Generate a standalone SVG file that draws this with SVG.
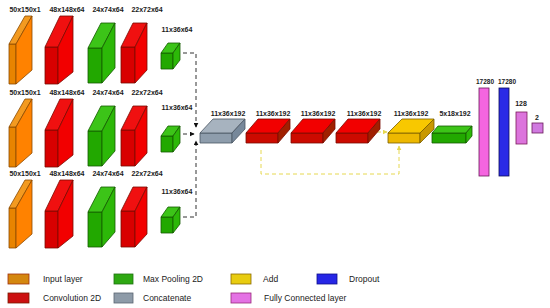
<svg xmlns="http://www.w3.org/2000/svg" width="550" height="308" viewBox="0 0 550 308">
<style>
text{font-family:"Liberation Sans",Arial,sans-serif;fill:#1a1a1a}
.lb{font-size:7px;font-weight:bold;text-anchor:middle}
.sm{font-size:6.5px}
.lg{font-size:8.5px}
.s{stroke-width:0.8;stroke-linejoin:round}
.inF{fill:#E88400}.inT{fill:#F39A20}.inS{fill:#FF8200}.in{stroke:#8A4A00}
.cvF{fill:#D80000}.cvT{fill:#F01010}.cvS{fill:#F20000}.cv{stroke:#7A0A00}
.mpF{fill:#22A800}.mpT{fill:#3CC418}.mpS{fill:#2CB808}.mp{stroke:#145A00}
.ccF{fill:#8E9DAC}.ccT{fill:#A7B3BF}.ccS{fill:#77889A}.cc{stroke:#4A5662}
.fcF{fill:#CC0A00}.fcT{fill:#F20000}.fcS{fill:#A02000}
.adF{fill:#EDB800}.adT{fill:#F8C800}.adS{fill:#C99800}.ad{stroke:#7A5E00}
.dash{fill:none;stroke:#333;stroke-width:1;stroke-dasharray:4 3}
.ydash{fill:none;stroke:#E6D850;stroke-width:1;stroke-dasharray:4 3}
</style>
<defs>
<marker id="ah" viewBox="0 0 8 8" refX="7" refY="4" markerWidth="5" markerHeight="5" orient="auto" markerUnits="userSpaceOnUse"><path d="M0,0 L8,4 L0,8 Z" fill="#111"/></marker>
<marker id="yh" viewBox="0 0 8 8" refX="7" refY="4" markerWidth="5" markerHeight="5" orient="auto" markerUnits="userSpaceOnUse"><path d="M0,0 L8,4 L0,8 Z" fill="#E6D850"/></marker>
<g id="rowblocks">
<g class="in s"><polygon class="inF" points="9,44 16,44 16,84 9,84"/><polygon class="inT" points="9,44 25,16 32,16 16,44"/><polygon class="inS" points="16,44 32,16 32,70 16,84"/></g>
<g class="cv s"><polygon class="cvF" points="45,47 58,47 58,84 45,84"/><polygon class="cvT" points="45,47 60,16 73,16 58,47"/><polygon class="cvS" points="58,47 73,16 73,72 58,84"/></g>
<g class="mp s"><polygon class="mpF" points="88,48 102,48 102,83 88,83"/><polygon class="mpT" points="88,48 101,23 115,23 102,48"/><polygon class="mpS" points="102,48 115,23 115,68 102,83"/></g>
<g class="cv s"><polygon class="cvF" points="121,47 135,47 135,83 121,83"/><polygon class="cvT" points="121,47 133,23 147,23 135,47"/><polygon class="cvS" points="135,47 147,23 147,70 135,83"/></g>
<g class="mp s"><polygon class="mpF" points="161,53 173,53 173,69 161,69"/><polygon class="mpT" points="161,53 168,43 180,43 173,53"/><polygon class="mpS" points="173,53 180,43 180,60 173,69"/></g>
</g>
<g id="flatred" class="cv s"><polygon class="fcF" points="0,14 32,14 32,24 0,24"/><polygon class="fcT" points="0,14 12,0 44,0 32,14"/><polygon class="fcS" points="32,14 44,0 44,10 32,24"/></g>
</defs>

<g id="branch1">
<use href="#rowblocks"/>
<text class="lb" x="25" y="12">50x150x1</text><text class="lb" x="67" y="12">48x148x64</text><text class="lb" x="108" y="12">24x74x64</text><text class="lb" x="147" y="12">22x72x64</text><text class="lb" x="177" y="32">11x36x64</text>
</g>
<g id="branch2">
<use href="#rowblocks" transform="translate(0,83)"/>
<text class="lb" x="25" y="95">50x150x1</text><text class="lb" x="67" y="95">48x148x64</text><text class="lb" x="108" y="95">24x74x64</text><text class="lb" x="147" y="95">22x72x64</text><text class="lb" x="177" y="110">11x36x64</text>
</g>
<g id="branch3">
<use href="#rowblocks" transform="translate(0,164)"/>
<text class="lb" x="25" y="176">50x150x1</text><text class="lb" x="67" y="176">48x148x64</text><text class="lb" x="108" y="176">24x74x64</text><text class="lb" x="147" y="176">22x72x64</text><text class="lb" x="177" y="194">11x36x64</text>
</g>

<g id="connectors">
<path class="dash" d="M183,53 H196 V127" marker-end="url(#ah)"/>
<path class="dash" d="M183,134 H194" marker-end="url(#ah)"/>
<path class="dash" d="M183,217 H196 V141" marker-end="url(#ah)"/>
<path class="ydash" d="M370,132 H387" marker-end="url(#yh)"/>
<path class="ydash" d="M261,150 V174 H399 V146" marker-end="url(#yh)"/>
</g>

<g id="concat" class="cc s">
<polygon class="ccF" points="200,133 232,133 232,143 200,143"/><polygon class="ccT" points="200,133 213,119 245,119 232,133"/><polygon class="ccS" points="232,133 245,119 245,129 232,143"/>
<text class="lb" x="228" y="116" stroke="none">11x36x192</text>
</g>
<g id="conv3a"><use href="#flatred" transform="translate(246,119)"/><text class="lb" x="273" y="116">11x36x192</text></g>
<g id="conv3b"><use href="#flatred" transform="translate(291,119)"/><text class="lb" x="318" y="116">11x36x192</text></g>
<g id="conv3c"><use href="#flatred" transform="translate(336,119)"/><text class="lb" x="364" y="116">11x36x192</text></g>
<g id="add" class="ad s">
<polygon class="adF" points="388,133 420,133 420,143 388,143"/><polygon class="adT" points="388,133 402,119 434,119 420,133"/><polygon class="adS" points="420,133 434,119 434,129 420,143"/>
<text class="lb" x="411" y="116" stroke="none">11x36x192</text>
</g>
<g id="pool" class="mp s">
<polygon class="mpF" points="432,133 466,133 466,143 432,143"/><polygon class="mpT" points="432,133 438,126 472,126 466,133"/><polygon class="mpS" points="466,133 472,126 472,136 466,143"/>
<text class="lb" x="455" y="116" stroke="none">5x18x192</text>
</g>
<g id="dense1"><rect x="479" y="88" width="10" height="88" fill="#F565E0" stroke="#6A1A5A" stroke-width="0.8"/><text class="lb sm" x="485" y="84">17280</text></g>
<g id="dropout"><rect x="499" y="88" width="10" height="88" fill="#2A2AE6" stroke="#0A0A5A" stroke-width="0.8"/><text class="lb sm" x="507" y="84">17280</text></g>
<g id="dense2"><rect x="516" y="112" width="11" height="32" fill="#DC74DC" stroke="#7A1A5A" stroke-width="0.8"/><text class="lb" x="521" y="106">128</text></g>
<g id="output"><rect x="532" y="123" width="11" height="10" fill="#D07AE0" stroke="#6A1A5A" stroke-width="0.8"/><text class="lb" x="537" y="120">2</text></g>

<g id="legend">
<rect x="8" y="274" width="21" height="10" fill="#D4870F" stroke="#A0300A" stroke-width="0.8"/><text class="lg" x="43" y="282">Input layer</text>
<rect x="8" y="293" width="21" height="10" fill="#CC1010" stroke="#7A1A00" stroke-width="0.8"/><text class="lg" x="43" y="301">Convolution 2D</text>
<rect x="114" y="274" width="19" height="10" fill="#2EA812" stroke="#1E7010" stroke-width="0.8"/><text class="lg" x="143" y="282">Max Pooling 2D</text>
<rect x="114" y="293" width="19" height="10" fill="#8E9BA8" stroke="#5A6470" stroke-width="0.8"/><text class="lg" x="143" y="301">Concatenate</text>
<rect x="231" y="274" width="20" height="10" fill="#E8CC10" stroke="#8A6A00" stroke-width="0.8"/><text class="lg" x="263" y="282">Add</text>
<rect x="231" y="293" width="20" height="10" fill="#E472E4" stroke="#9A2A7A" stroke-width="0.8"/><text class="lg" x="264" y="301">Fully Connected layer</text>
<rect x="317" y="274" width="20" height="10" fill="#2626E6" stroke="#10108A" stroke-width="0.8"/><text class="lg" x="349" y="282">Dropout</text>
</g>
</svg>
